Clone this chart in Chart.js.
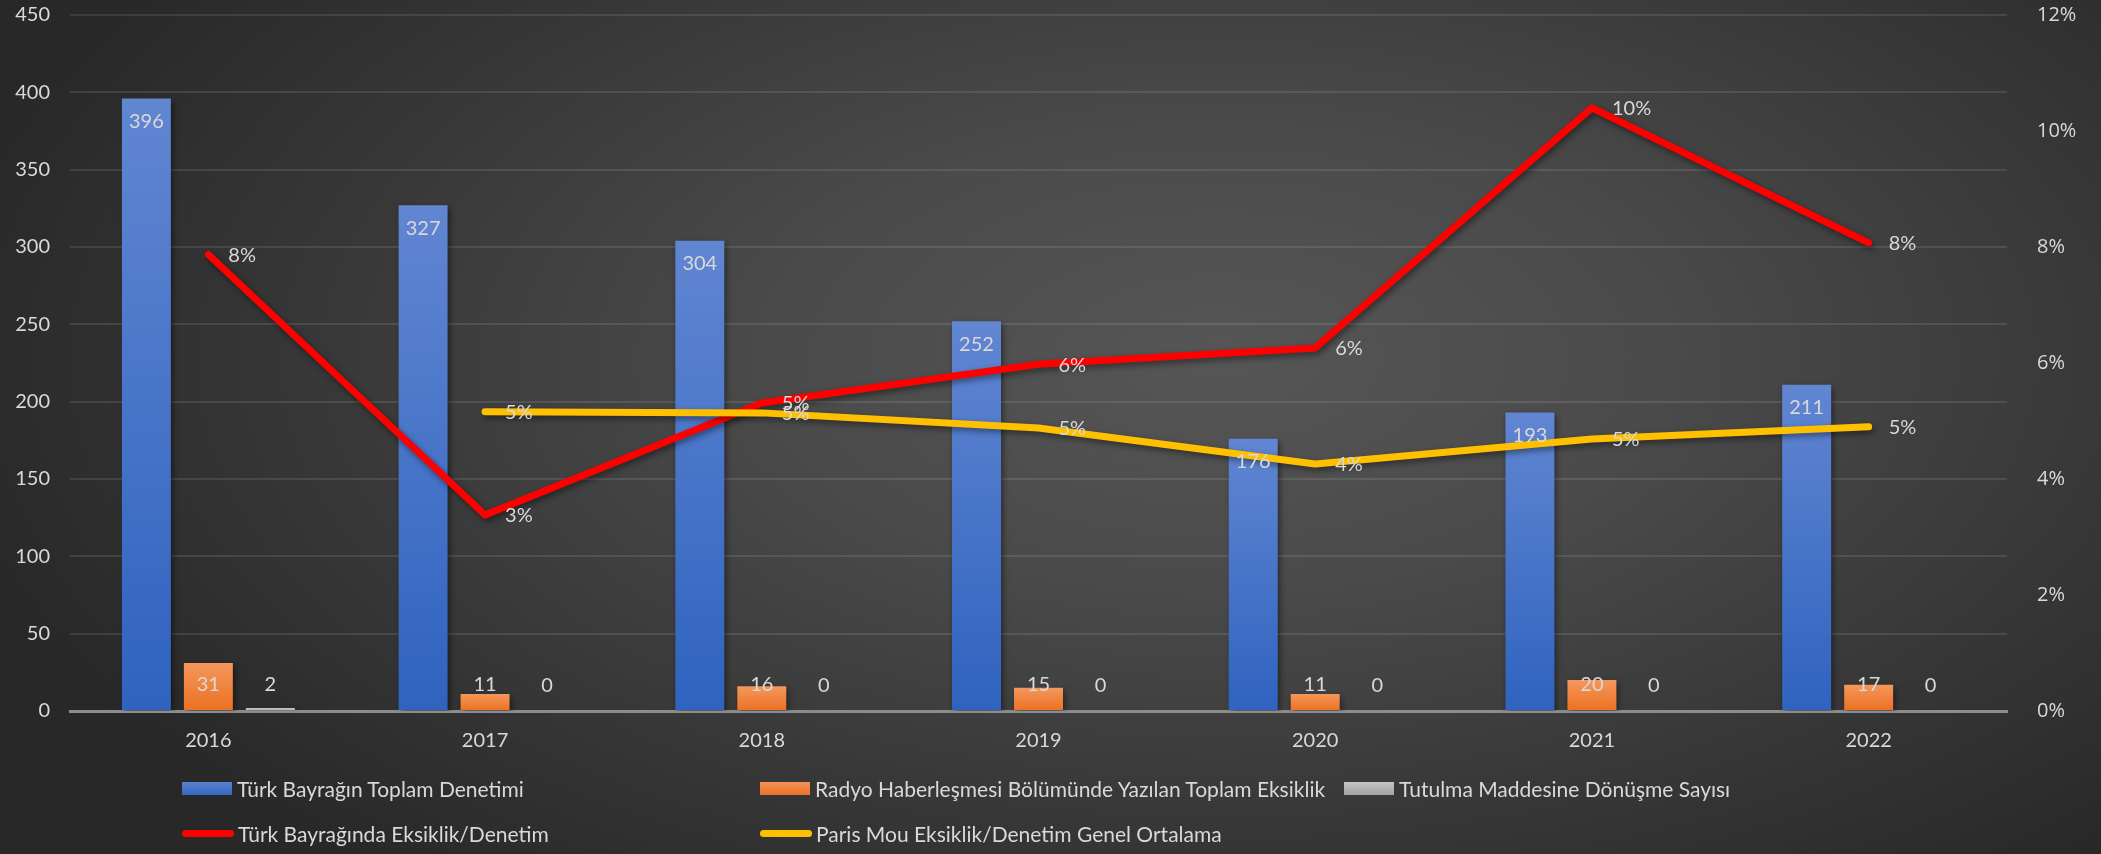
<!DOCTYPE html>
<html>
<head>
<meta charset="utf-8">
<script src="https://cdn.jsdelivr.net/npm/chart.js@4.4.1/dist/chart.umd.min.js"></script>
<style>
    body { margin: 0; overflow: hidden; background: #2b2b2b; }
    #kap {
        position: relative;
        width: 2101px;
        height: 854px;
        background: radial-gradient(ellipse 62% 78% at 58% 42%, #565656 0%, #4a4a4a 35%, #373737 70%, #282828 100%);
    }
    #lejant {
        position: absolute;
        left: 182px;
        top: 766px;
        display: grid;
        grid-template-columns: 578px 584px auto;
        grid-auto-rows: 45px;
        font-family: Lato, sans-serif;
        font-size: 21px;
        color: #d9d9d9;
    }
    .oge { display: flex; align-items: center; white-space: nowrap; }
    .kutu { width: 50px; height: 13px; margin-right: 5px; }
    .cizgi { width: 52px; height: 7px; border-radius: 4px; margin-right: 4px; }
</style>
</head>
<body>
<div id="kap">
    <canvas id="grafik" width="2101" height="854"></canvas>
    <div id="lejant"></div>
</div>
<script>
var yillar = ['2016', '2017', '2018', '2019', '2020', '2021', '2022'];

var toplamDenetim = [396, 327, 304, 252, 176, 193, 211];
var radyoEksiklik = [31, 11, 16, 15, 11, 20, 17];
var tutulmaSayisi = [2, 0, 0, 0, 0, 0, 0];

var eksiklikOrani = [0.0787, 0.0338, 0.0531, 0.0598, 0.0626, 0.104, 0.0807];
var parisMouOrani = [null, 0.0516, 0.0514, 0.0488, 0.0426, 0.0469, 0.0490];

var solEksenTicks = [0, 50, 100, 150, 200, 250, 300, 350, 400, 450];
var sagEksenTicks = [0, 0.02, 0.04, 0.06, 0.08, 0.10, 0.12];

var yaziRengi = '#d9d9d9';

function yuzde(v) {
    return Math.round(v * 100) + '%';
}

// her cubuk icin yukaridan asagi gecisli renk
function cubukRengi(ust, alt) {
    return function(c) {
        var chart = c.chart;
        if (!chart.chartArea || c.raw == null) return ust;
        var y = chart.scales.y;
        var tepe = y.getPixelForValue(c.raw);
        var taban = y.getPixelForValue(0);
        if (!(taban - tepe > 0)) return alt;
        var g = chart.ctx.createLinearGradient(0, tepe, 0, taban);
        g.addColorStop(0, ust);
        g.addColorStop(1, alt);
        return g;
    };
}

var golge = {
    id: 'golge',
    beforeDatasetDraw(chart, args) {
        var ctx = chart.ctx;
        ctx.save();
        ctx.shadowColor = 'rgba(0,0,0,0.45)';
        ctx.shadowBlur = 6;
        ctx.shadowOffsetX = 2;
        ctx.shadowOffsetY = 3;
    },
    afterDatasetDraw(chart) {
        chart.ctx.restore();
    }
};

var etiketler = {
    id: 'etiketler',
    afterDatasetsDraw(chart) {
        var ctx = chart.ctx;
        ctx.save();
        ctx.font = '20px Lato';
        ctx.fillStyle = yaziRengi;
        ctx.textBaseline = 'middle';
        chart.data.datasets.forEach(function(ds, i) {
            var meta = chart.getDatasetMeta(i);
            meta.data.forEach(function(el, j) {
                var v = ds.data[j];
                if (v === null || v === undefined) return;
                if (ds.type === 'line') {
                    ctx.textAlign = 'left';
                    ctx.fillText(yuzde(v), el.x + 20, el.y + 1);
                } else if (i === 0) {
                    ctx.textAlign = 'center';
                    ctx.fillText(String(v), el.x, el.y + 23);
                } else {
                    ctx.textAlign = 'center';
                    ctx.fillText(String(v), el.x, el.base - 25);
                }
            });
        });
        ctx.restore();
    }
};

var htmlLejant = {
    id: 'htmlLejant',
    afterUpdate(chart) {
        var kutu = document.getElementById('lejant');
        kutu.innerHTML = '';
        chart.data.datasets.forEach(function(ds) {
            var oge = document.createElement('div');
            oge.className = 'oge';
            var isaret = document.createElement('span');
            if (ds.type === 'line') {
                isaret.className = 'cizgi';
                isaret.style.background = ds.borderColor;
            } else {
                isaret.className = 'kutu';
                isaret.style.background = 'linear-gradient(' + ds.lejantRenk[0] + ',' + ds.lejantRenk[1] + ')';
            }
            var yazi = document.createElement('span');
            yazi.textContent = ds.label;
            oge.appendChild(isaret);
            oge.appendChild(yazi);
            kutu.appendChild(oge);
        });
    }
};

function dikeyEksenGenislik(genislik) {
    return function(s) {
        s.width = genislik;
        s.paddingTop = 0;
        s.paddingBottom = 0;
    };
}

var ctx = document.getElementById('grafik').getContext('2d');
var grafik = new Chart(ctx, {
    data: {
        labels: yillar,
        datasets: [{
            type: 'bar',
            label: 'Türk Bayrağın Toplam Denetimi',
            data: toplamDenetim,
            backgroundColor: cubukRengi('#6186d2', '#2f63bf'),
            lejantRenk: ['#5a80cf', '#3567c2'],
            yAxisID: 'y',
            order: 2
        }, {
            type: 'bar',
            label: 'Radyo Haberleşmesi Bölümünde Yazılan Toplam Eksiklik',
            data: radyoEksiklik,
            backgroundColor: cubukRengi('#f4975d', '#ec7021'),
            lejantRenk: ['#f39259', '#ec7226'],
            yAxisID: 'y',
            order: 2
        }, {
            type: 'bar',
            label: 'Tutulma Maddesine Dönüşme Sayısı',
            data: tutulmaSayisi,
            backgroundColor: cubukRengi('#c8c8c8', '#a5a5a5'),
            lejantRenk: ['#c4c4c4', '#a3a3a3'],
            yAxisID: 'y',
            order: 2
        }, {
            type: 'line',
            label: 'Türk Bayrağında Eksiklik/Denetim',
            data: eksiklikOrani,
            borderColor: '#ff0000',
            backgroundColor: '#ff0000',
            borderWidth: 7,
            pointRadius: 0,
            tension: 0,
            borderCapStyle: 'round',
            borderJoinStyle: 'round',
            yAxisID: 'y1',
            order: 1
        }, {
            type: 'line',
            label: 'Paris Mou Eksiklik/Denetim Genel Ortalama',
            data: parisMouOrani,
            borderColor: '#ffc000',
            backgroundColor: '#ffc000',
            borderWidth: 7,
            pointRadius: 0,
            tension: 0,
            borderCapStyle: 'round',
            borderJoinStyle: 'round',
            yAxisID: 'y1',
            order: 0
        }]
    },
    options: {
        responsive: false,
        animation: false,
        categoryPercentage: 0.672,
        barPercentage: 0.79,
        layout: { padding: { top: 15, right: 0, bottom: 94, left: 0 } },
        plugins: {
            legend: { display: false },
            tooltip: { enabled: false }
        },
        scales: {
            x: {
                grid: { display: false },
                border: { color: '#8c8c8c', width: 3 },
                ticks: { color: yaziRengi, font: { family: 'Lato', size: 20 }, padding: 10 },
                afterFit: function(s) { s.height = 49; }
            },
            y: {
                position: 'left',
                min: 0,
                max: 450,
                afterBuildTicks: function(s) { s.ticks = solEksenTicks.map(function(v) { return { value: v }; }); },
                ticks: { color: yaziRengi, font: { family: 'Lato', size: 20 }, padding: 20 },
                grid: { color: 'rgba(255,255,255,0.10)', lineWidth: 2, drawTicks: false },
                border: { display: false },
                afterFit: dikeyEksenGenislik(70)
            },
            y1: {
                position: 'right',
                min: 0,
                max: 0.12,
                afterBuildTicks: function(s) { s.ticks = sagEksenTicks.map(function(v) { return { value: v }; }); },
                ticks: {
                    color: yaziRengi,
                    font: { family: 'Open Sans', size: 20 },
                    padding: 22,
                    callback: function(v) { return yuzde(v); }
                },
                grid: { display: false },
                border: { display: false },
                afterFit: dikeyEksenGenislik(94)
            }
        }
    },
    plugins: [golge, etiketler, htmlLejant]
});
</script>
</body>
</html>
